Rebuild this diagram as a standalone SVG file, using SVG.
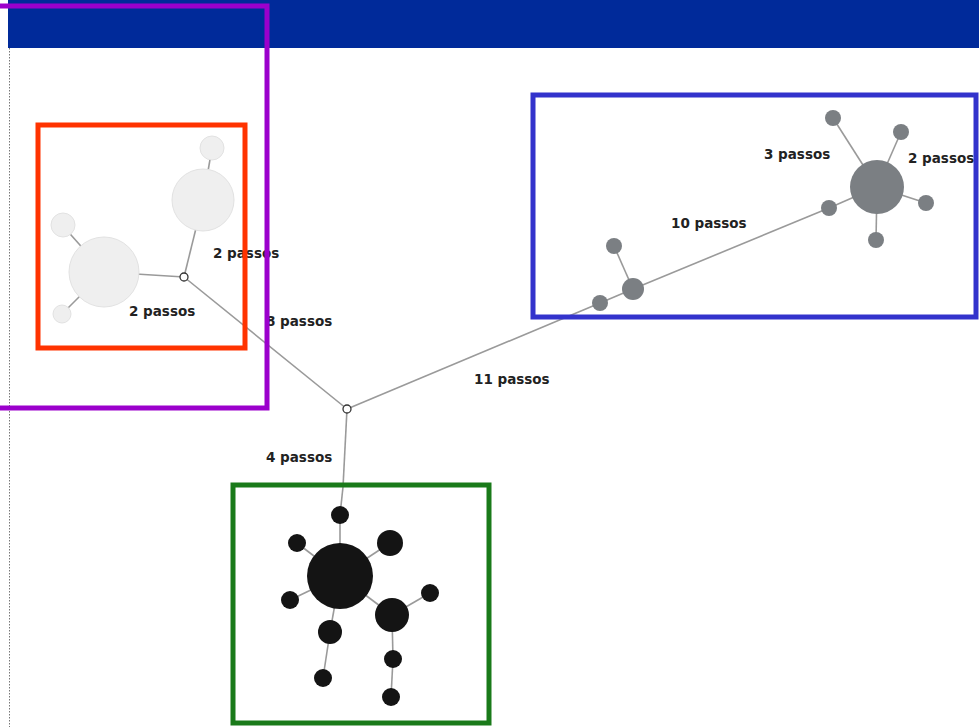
<svg xmlns="http://www.w3.org/2000/svg" width="979" height="727" viewBox="0 0 979 727">
<style>
.e{stroke:#9a9a9a;stroke-width:1.6;fill:none}
.l{fill:#efefef;stroke:#e2e2e2;stroke-width:1}
.g{fill:#7b7f83}
.k{fill:#141414}
.j{fill:#fff;stroke:#333;stroke-width:1.3}
.t{font-family:"DejaVu Sans",Verdana,sans-serif;font-weight:bold;font-size:13.5px;fill:#222}
.f{fill:none;stroke-width:5}
</style>
<rect x="0" y="0" width="979" height="727" fill="#fff"/>
<rect x="8" y="0" width="971" height="48" fill="#002a9a"/>
<line x1="9.5" y1="48" x2="9.5" y2="727" stroke="#777" stroke-width="1" stroke-dasharray="1.5,1.5"/>
<g id="connectors">
<line class="e" x1="184" y1="277" x2="347" y2="409"/>
<line class="e" x1="347" y1="409" x2="600" y2="303"/>
<line class="e" x1="347" y1="409" x2="343" y2="487"/>
<line class="e" x1="343" y1="487" x2="340" y2="515"/>
<line class="e" x1="104" y1="272" x2="184" y2="277"/>
<line class="e" x1="203" y1="200" x2="184" y2="277"/>
<line class="e" x1="203" y1="200" x2="212" y2="148"/>
<line class="e" x1="104" y1="272" x2="63" y2="226"/>
<line class="e" x1="104" y1="272" x2="62" y2="314"/>
<line class="e" x1="600" y1="303" x2="633" y2="289"/>
<line class="e" x1="633" y1="289" x2="614" y2="246"/>
<line class="e" x1="633" y1="289" x2="829" y2="208"/>
<line class="e" x1="829" y1="208" x2="877" y2="187"/>
<line class="e" x1="877" y1="187" x2="833" y2="118"/>
<line class="e" x1="877" y1="187" x2="901" y2="132"/>
<line class="e" x1="877" y1="187" x2="926" y2="203"/>
<line class="e" x1="877" y1="187" x2="876" y2="240"/>
<line class="e" x1="340" y1="576" x2="340" y2="515"/>
<line class="e" x1="340" y1="576" x2="390" y2="543"/>
<line class="e" x1="340" y1="576" x2="297" y2="543"/>
<line class="e" x1="340" y1="576" x2="290" y2="600"/>
<line class="e" x1="340" y1="576" x2="330" y2="632"/>
<line class="e" x1="330" y1="632" x2="323" y2="678"/>
<line class="e" x1="340" y1="576" x2="392" y2="615"/>
<line class="e" x1="392" y1="615" x2="430" y2="593"/>
<line class="e" x1="392" y1="615" x2="393" y2="659"/>
<line class="e" x1="393" y1="659" x2="391" y2="697"/>
</g>
<g id="light-cluster">
<circle class="l" cx="104" cy="272" r="35"/>
<circle class="l" cx="203" cy="200" r="31"/>
<circle class="l" cx="212" cy="148" r="12"/>
<circle class="l" cx="63" cy="225" r="12"/>
<circle class="l" cx="62" cy="314" r="9"/>
</g>
<g id="grey-cluster">
<circle class="g" cx="877" cy="187" r="27"/>
<circle class="g" cx="833" cy="118" r="8"/>
<circle class="g" cx="901" cy="132" r="8"/>
<circle class="g" cx="926" cy="203" r="8"/>
<circle class="g" cx="876" cy="240" r="8"/>
<circle class="g" cx="829" cy="208" r="8"/>
<circle class="g" cx="633" cy="289" r="11"/>
<circle class="g" cx="614" cy="246" r="8"/>
<circle class="g" cx="600" cy="303" r="8"/>
</g>
<g id="black-cluster">
<circle class="k" cx="340" cy="576" r="33"/>
<circle class="k" cx="340" cy="515" r="9"/>
<circle class="k" cx="390" cy="543" r="13"/>
<circle class="k" cx="297" cy="543" r="9"/>
<circle class="k" cx="290" cy="600" r="9"/>
<circle class="k" cx="330" cy="632" r="12"/>
<circle class="k" cx="323" cy="678" r="9"/>
<circle class="k" cx="392" cy="615" r="17"/>
<circle class="k" cx="430" cy="593" r="9"/>
<circle class="k" cx="393" cy="659" r="9"/>
<circle class="k" cx="391" cy="697" r="9"/>
</g>
<g id="junctions">
<circle class="j" cx="184" cy="277" r="4"/>
<circle class="j" cx="347" cy="409" r="4"/>
</g>
<g id="labels">
<text class="t" x="213" y="258">2 passos</text>
<text class="t" x="129" y="316">2 passos</text>
<text class="t" x="266" y="326">8 passos</text>
<text class="t" x="474" y="384">11 passos</text>
<text class="t" x="266" y="462">4 passos</text>
<text class="t" x="671" y="228">10 passos</text>
<text class="t" x="764" y="159">3 passos</text>
<text class="t" x="908" y="163">2 passos</text>
</g>
<g id="frames">
<rect class="f" x="-10" y="6" width="277" height="402" stroke="#9b00cc"/>
<rect class="f" x="38" y="125" width="207" height="223" stroke="#ff3300"/>
<rect class="f" x="533" y="95" width="443" height="222" stroke="#3333cc"/>
<rect class="f" x="233" y="485" width="256" height="238" stroke="#1a7a1a"/>
</g>
</svg>
